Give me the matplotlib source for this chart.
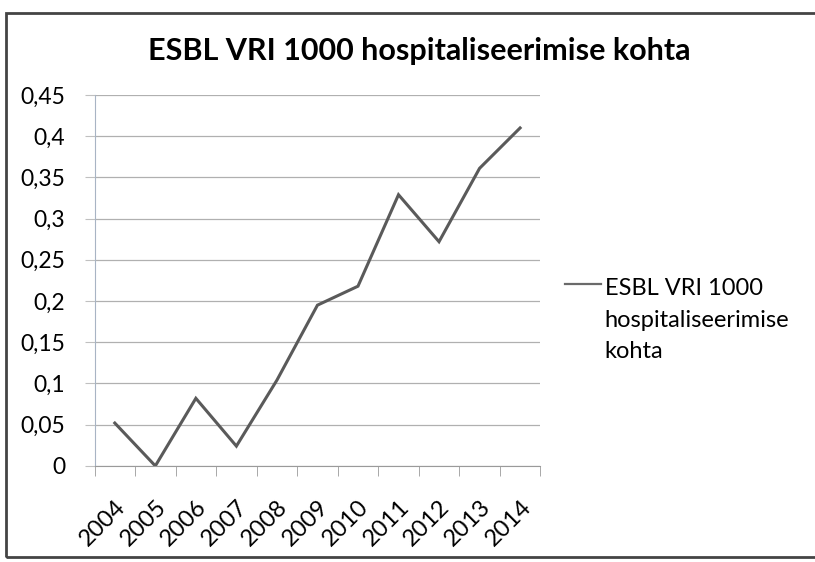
import numpy as np
import matplotlib
matplotlib.use('Agg')
import matplotlib.pyplot as plt
from matplotlib.patches import Rectangle

plt.rcParams['font.family'] = ['Lato', 'DejaVu Sans']

# andmed (loetud pildilt)
years = ['2004', '2005', '2006', '2007', '2008', '2009', '2010', '2011', '2012', '2013', '2014']
values = [0.052, 0.0, 0.082, 0.024, 0.104, 0.195, 0.218, 0.329, 0.272, 0.361, 0.41]
yticks = [0, 0.05, 0.1, 0.15, 0.2, 0.25, 0.3, 0.35, 0.4, 0.45]
title = 'ESBL VRI 1000 hospitaliseerimise kohta'
legend_label = 'ESBL VRI 1000\nhospitaliseerimise\nkohta'

fig = plt.figure(figsize=(8.15, 5.62), dpi=100)
ax = fig.add_axes([0.116, 0.171, 0.547, 0.660])

x = np.arange(len(years))
ax.plot(x, values, color='#5a5a5a', lw=2.2, solid_joinstyle='miter')

ax.set_xlim(-0.5, len(years) - 0.5)
ax.set_ylim(0, 0.45)
ax.set_yticks(yticks)
ax.set_yticklabels([('%g' % v).replace('.', ',') for v in yticks], fontsize=16.5)
ax.yaxis.grid(True, color='#b0b0b0', lw=0.9)
ax.set_axisbelow(True)
ax.tick_params(axis='y', length=7, color='#c0c0c0', pad=14)

# kategooriate piirid
ax.set_xticks(x)
ax.set_xticklabels(years, rotation=45, ha='right', rotation_mode='anchor', fontsize=17)
ax.set_xticks(np.arange(-0.5, len(years)), minor=True)
ax.tick_params(axis='x', which='major', length=0, pad=22)
ax.tick_params(axis='x', which='minor', length=7, color='#9a9a9a')

for s in ['top', 'right']:
    ax.spines[s].set_visible(False)
ax.spines['left'].set_color('#a8b4c4')
ax.spines['bottom'].set_color('#9a9a9a')

fig.text(0.515, 0.91, title, ha='center', va='center', fontsize=22, fontweight='bold')

# legend
fig.add_artist(plt.Line2D([0.693, 0.737], [0.495, 0.495], color='#6a6a6a', lw=1.6))
fig.text(0.742, 0.505, legend_label, ha='left', va='top', fontsize=17,
         linespacing=1.62, transform=fig.transFigure)

# raam
fig.add_artist(Rectangle((0.007, 0.009), 1.0, 0.968, transform=fig.transFigure,
                         fill=False, ec='#444444', lw=2))

fig.savefig('out.png', dpi=100)
